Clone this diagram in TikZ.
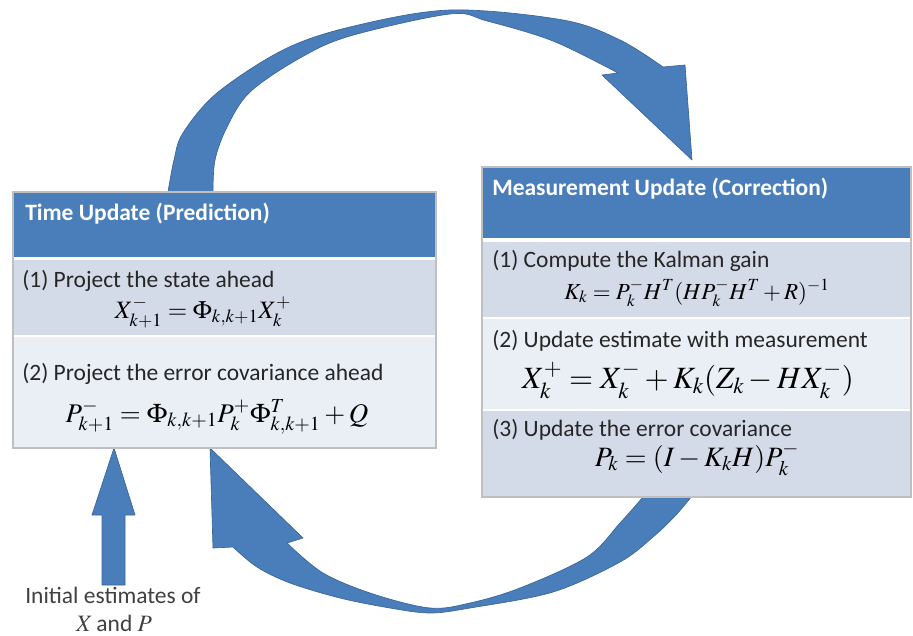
\documentclass[tikz,border=0pt]{standalone}
\usepackage{mathptmx}
\usepackage[no-math]{fontspec}
\setmainfont{Carlito}
\definecolor{arrowblue}{HTML}{4A7EBB}
\definecolor{arrowedge}{HTML}{3A659A}
\definecolor{headblue}{HTML}{4A7EBB}
\definecolor{bandone}{HTML}{D3DAE8}
\definecolor{bandtwo}{HTML}{EAEEF5}
\definecolor{framegray}{HTML}{BFBFBF}
\definecolor{textdark}{HTML}{262626}
\begin{document}
\begin{tikzpicture}[x=0.75pt,y=-0.75pt]
\useasboundingbox (0,0) rectangle (913,635);
\tikzset{
  flow/.style={fill=arrowblue, draw=arrowedge, line width=0.5pt, line join=round},
  frame/.style={draw=framegray, fill=white, line width=0.8pt},
  title/.style={text=white, font=\fontsize{17.6}{20}\selectfont\bfseries, anchor=base west, inner sep=0pt},
  body/.style={text=textdark, font=\fontsize{17.6}{20}\selectfont, anchor=base west, inner sep=0pt},
  eq/.style={anchor=base, inner sep=0pt, text=black},
}

% curved arrow: time update -> measurement update
\path[flow] plot[smooth, tension=0.55] coordinates {(168,192) (174,160) (183,133) (217,93) (283,50) (350,27) (450,10) (563,20) (620,40) (663,67)}
  -- (685,65) -- (692,160) -- (602,75) -- (618,73)
  -- plot[smooth, tension=0.55] coordinates {(618,73) (553,41) (487,21) (450,14) (350,36) (300,58) (250,92) (227,127) (215,160) (213,192)} -- cycle;

% curved arrow: measurement update -> time update
\path[flow] plot[smooth, tension=0.55] coordinates {(692,496) (675,516) (653,537) (620,562) (553,592) (470,608) (430,613) (390,608) (340,598) (290,583) (257,567) (233,547)}
  -- (213,548) -- (210,448) -- (303,538) -- (287,543)
  -- plot[smooth, tension=0.55] coordinates {(287,543) (323,573) (373,594) (430,608) (470,603) (520,588) (587,557) (620,523) (643,497)} -- cycle;

% initial estimates arrow
\path[flow] (102,585) -- (102,515) -- (92,515) -- (114,448) -- (135,515) -- (125,515) -- (125,585) -- cycle;

% time update table
\path[frame] (13,192) rectangle (436,448);
\fill[headblue] (14,193) rectangle (435,257);
\fill[bandone] (14,260) rectangle (435,335);
\fill[bandtwo] (14,337) rectangle (435,447);

% measurement update table
\path[frame] (482,167) rectangle (911,497);
\fill[headblue] (483,168) rectangle (910,238);
\fill[bandone] (483,242) rectangle (910,317);
\fill[bandtwo] (483,319) rectangle (910,409);
\fill[bandone] (483,411) rectangle (910,496);

% time update texts
\node[title] (tuhead) at (25,220) {Time Update (Prediction)};
\node[body] (tustepa) at (22,287) {(1) Project the state ahead};
\node[eq, font=\fontsize{18.75}{20}\selectfont] (tueqa) at (203,318) {$X^{-}_{k+1}=\Phi_{k,k+1}X^{+}_{k}$};
\node[body] (tustepb) at (22,380) {(2) Project the error covariance ahead};
\node[eq, font=\fontsize{20.2}{24}\selectfont] (tueqb) at (217,422) {$P^{-}_{k+1}=\Phi_{k,k+1}P^{+}_{k}\Phi^{T}_{k,k+1}+Q$};

% measurement update texts
\node[title] (muhead) at (492,195) {Measurement Update (Correction)};
\node[body] (mustepa) at (492,267) {(1) Compute the Kalman gain};
\node[eq, font=\fontsize{17.25}{20}\selectfont] (mueqa) at (697,299) {$K_k=P^{-}_{k}H^{T}(HP^{-}_{k}H^{T}+R)^{-1}$};
\node[body] (mustepb) at (492,347) {(2) Update estimate with measurement};
\node[eq, font=\fontsize{23.2}{26}\selectfont] (mueqb) at (688,388) {$X^{+}_{k}=X^{-}_{k}+K_k(Z_k-HX^{-}_{k})$};
\node[body] (mustepc) at (492,436) {(3) Update the error covariance};
\node[eq, font=\fontsize{21}{24}\selectfont] (mueqc) at (697,466) {$P_k=(I-K_kH)P^{-}_{k}$};

% initial estimates label
\node[body, anchor=base, text=black!75] (initA) at (113,603) {Initial estimates of};
\node[body, anchor=base, text=black!75] (initB) at (114,631) {$X$\,and $P$};
\end{tikzpicture}
\end{document}
